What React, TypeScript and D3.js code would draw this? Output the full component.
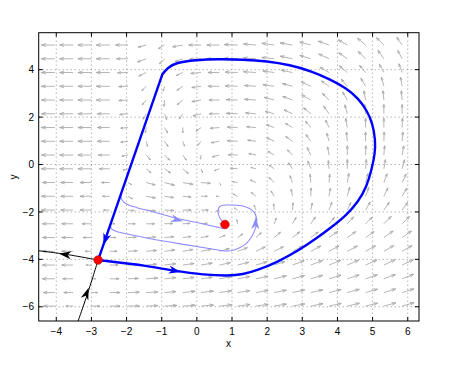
import React from "react"
import * as d3 from "d3"

const W = 461
const H = 370

const xTicks = [-4, -3, -2, -1, 0, 1, 2, 3, 4, 5, 6]
const yTicks = [-6, -4, -2, 0, 2, 4]

// quiver grid (data coords)
const fieldX = [-4.04, -3.52, -3.0, -2.48, -1.96, -1.44, -0.92, -0.4, 0.12, 0.64, 1.16, 1.68, 2.2, 2.72, 3.24, 3.76, 4.28, 4.8, 5.32, 5.84]
const fieldY = [5.04, 4.46, 3.88, 3.3, 2.72, 2.14, 1.56, 0.98, 0.4, -0.18, -0.76, -1.34, -1.92, -2.5, -3.08, -3.66, -4.24, -4.82, -5.4, -5.97]

// arrow direction in degrees (0 = right, 90 = up), one row per fieldY value
const fieldAngle = [
    [180, 180, 180, 180, 180, 195, 210, 190, 180, 180, 178, 175, 172, 170, 165, 160, 150, 140, 135, 125],
    [180, 180, 180, 180, 180, 200, 225, 200, 182, 180, 178, 176, 174, 168, 163, 155, 145, 135, 125, 118],
    [180, 180, 180, 180, 181, 205, 240, 205, 185, 180, 178, 176, 172, 168, 160, 150, 140, 130, 118, 110],
    [180, 180, 180, 180, 182, 225, 255, 215, 188, 180, 178, 176, 172, 165, 155, 145, 130, 120, 105, 100],
    [180, 180, 180, 180, 183, 230, 265, 220, 190, 180, 178, 176, 165, 160, 150, 135, 120, 100, 95, 95],
    [180, 180, 180, 180, 185, 240, 290, 235, 195, 180, 178, 175, 165, 155, 140, 125, 105, 95, 90, 90],
    [180, 180, 180, 180, 185, 260, 300, 270, 215, 185, 178, 175, 160, 150, 130, 115, 100, 90, 90, 88],
    [180, 180, 180, 180, 187, 285, 305, 290, 230, 190, 177, 172, 155, 145, 125, 105, 95, 90, 88, 85],
    [180, 180, 180, 180, 190, 310, 315, 305, 260, 195, 178, 168, 150, 135, 115, 100, 90, 88, 85, 80],
    [180, 180, 180, 180, 195, 320, 325, 320, 290, 200, 175, 165, 145, 125, 110, 95, 90, 85, 80, 75],
    [180, 180, 180, 180, 330, 345, 345, 350, 355, 300, 170, 155, 135, 110, 95, 85, 80, 75, 70, 65],
    [180, 180, 180, 180, 330, 350, 352, 355, 0, 180, 155, 140, 120, 100, 88, 80, 75, 70, 65, 60],
    [180, 180, 180, 180, 355, 355, 357, 0, 0, 200, 150, 110, 95, 85, 78, 70, 65, 60, 55, 55],
    [180, 180, 180, 0, 0, 0, 2, 3, 5, 10, 100, 80, 70, 60, 55, 50, 48, 45, 45, 45],
    [180, 180, 180, 0, 2, 3, 5, 7, 10, 20, 35, 42, 40, 38, 36, 35, 35, 35, 35, 35],
    [180, 180, 180, 0, 3, 5, 8, 10, 12, 15, 20, 25, 26, 27, 28, 28, 28, 29, 30, 30],
    [180, 180, 180, 0, 2, 5, 7, 8, 10, 12, 14, 16, 18, 20, 21, 22, 23, 24, 25, 25],
    [180, 180, 0, 0, 2, 4, 6, 7, 8, 10, 11, 12, 14, 15, 16, 17, 18, 19, 20, 21],
    [180, 180, 0, 0, 2, 3, 5, 6, 7, 8, 9, 10, 11, 12, 13, 14, 15, 16, 17, 17],
    [180, 180, 0, 0, 1, 2, 3, 4, 5, 6, 7, 8, 9, 10, 11, 12, 13, 14, 15, 16],
]

// arrow magnitude (scaled quiver length)
const fieldSpeed = [
    [13, 13, 13, 13, 12, 8, 7, 10, 12, 12, 13, 12, 12, 12, 11, 11, 10, 10, 10, 9],
    [13, 13, 13, 13, 11, 9, 7, 8, 11, 12, 13, 12, 12, 12, 11, 11, 10, 10, 10, 9],
    [13, 13, 13, 13, 10, 8, 6, 7, 10, 11, 12, 12, 11, 11, 10, 10, 10, 9, 9, 9],
    [13, 13, 13, 13, 9, 6, 5, 7, 9, 11, 12, 11, 11, 10, 10, 9, 9, 9, 9, 9],
    [13, 13, 13, 13, 9, 6, 6, 7, 9, 10, 11, 11, 10, 10, 10, 9, 9, 9, 9, 9],
    [13, 13, 13, 12, 8, 6, 6, 6, 8, 10, 11, 10, 9, 9, 9, 9, 9, 9, 9, 9],
    [13, 13, 13, 12, 7, 5, 6, 5, 6, 9, 10, 9, 8, 8, 8, 8, 9, 9, 9, 9],
    [13, 13, 13, 12, 7, 5, 6, 5, 5, 8, 10, 8, 8, 8, 8, 8, 9, 9, 9, 9],
    [13, 13, 13, 11, 6, 6, 7, 6, 4, 7, 9, 7, 7, 7, 8, 8, 9, 9, 9, 9],
    [13, 13, 13, 10, 5, 6, 7, 7, 4, 5, 7, 5, 6, 7, 8, 8, 9, 9, 9, 9],
    [12, 12, 11, 8, 4, 9, 10, 10, 9, 3, 5, 6, 7, 7, 8, 8, 9, 9, 9, 9],
    [13, 12, 11, 7, 5, 9, 9, 8, 6, 3, 5, 6, 6, 7, 8, 8, 9, 9, 9, 9],
    [13, 12, 11, 6, 6, 9, 9, 8, 7, 3, 4, 5, 6, 7, 7, 8, 8, 9, 9, 9],
    [12, 11, 9, 5, 7, 8, 8, 7, 6, 3, 4, 5, 6, 7, 8, 8, 9, 9, 10, 10],
    [12, 11, 8, 6, 8, 9, 9, 8, 7, 6, 6, 7, 8, 9, 9, 10, 10, 10, 11, 11],
    [12, 11, 6, 7, 9, 10, 10, 10, 10, 10, 10, 10, 10, 11, 11, 11, 11, 11, 11, 11],
    [12, 11, 5, 8, 10, 10, 11, 11, 11, 11, 11, 11, 11, 12, 12, 12, 12, 12, 12, 12],
    [12, 10, 4, 9, 10, 11, 11, 11, 11, 12, 12, 12, 12, 12, 12, 12, 12, 12, 12, 12],
    [11, 9, 6, 10, 11, 11, 11, 12, 12, 12, 12, 12, 12, 12, 12, 12, 12, 12, 12, 12],
    [11, 7, 8, 10, 11, 11, 12, 12, 12, 12, 12, 12, 12, 12, 12, 12, 12, 12, 12, 12],
]

// homoclinic orbit: curved part from the saddle round to the corner, then straight back down
const homoclinicArc: [number, number][] = [
    [-2.81, -4.03], [-1.34, -4.28], [-0.6, -4.5], [0.2, -4.65], [0.9, -4.7], [1.3, -4.64],
    [1.74, -4.45], [2.31, -4.1], [2.88, -3.64], [3.4, -3.12], [3.79, -2.69], [4.26, -2.13],
    [4.59, -1.57], [4.83, -0.94], [4.97, -0.23], [5.07, 0.47], [5.08, 1.03], [5.0, 1.74],
    [4.83, 2.3], [4.59, 2.79], [4.26, 3.21], [3.79, 3.59], [3.22, 3.96], [2.65, 4.2],
    [2.0, 4.36], [1.3, 4.43], [0.6, 4.45], [-0.03, 4.41], [-0.6, 4.3], [-0.83, 4.08],
    [-0.98, 3.81],
]
const homoclinicLine: [number, number][] = [[-0.98, 3.81], [-2.81, -4.03]]
const stableBelow: [number, number][] = [[-3.45, -6.9], [-3.1, -5.4], [-2.81, -4.03]]
const unstableLeft: [number, number][] = [[-2.81, -4.03], [-3.76, -3.78], [-4.6, -3.62]]

const orbitA: [number, number][] = [
    [-2.16, -1.3], [-2.15, -1.44], [-2.08, -1.59], [-1.94, -1.71], [-1.7, -1.82], [-1.23, -2.0],
    [-0.56, -2.28], [0.1, -2.48], [0.58, -2.64], [0.79, -2.68], [0.8, -2.56],
]
const orbitB: [number, number][] = [
    [-2.46, -2.59], [-2.43, -2.71], [-2.32, -2.8], [-2.08, -2.9], [-1.32, -3.13], [-0.37, -3.37],
    [0.39, -3.55], [0.86, -3.65], [1.1, -3.58], [1.43, -3.29], [1.64, -2.8], [1.7, -2.38],
    [1.64, -2.03], [1.38, -1.78], [1.01, -1.71], [0.67, -1.75], [0.6, -1.96], [0.65, -2.24],
    [0.75, -2.45], [0.8, -2.53],
]

const equilibria: [number, number][] = [[-2.81, -4.03], [0.8, -2.53]]

// direction markers: tip position and a point behind it along the curve
const markers = [
    {tip: [-2.66, -3.4], from: [-2.5, -2.7], color: "#0000ff"},
    {tip: [-0.46, -4.53], from: [-1.2, -4.3], color: "#0000ff"},
    {tip: [-3.92, -3.76], from: [-3.3, -3.88], color: "#000000"},
    {tip: [-3.08, -5.2], from: [-3.25, -5.9], color: "#000000"},
    {tip: [-0.4, -2.39], from: [-1.0, -2.15], color: "#8c8cff"},
    {tip: [1.68, -2.22], from: [1.66, -2.75], color: "#8c8cff"},
]

const App = () => {
    const xScale = d3.scaleLinear().domain([-4.5, 6.32]).range([38.7, 419])
    const yScale = d3.scaleLinear().domain([-6.6, 5.56]).range([321, 32.7])
    const lengthScale = d3.scaleLinear().domain([0, 13]).range([0, 13.5])

    const [x0, x1] = xScale.range()
    const [y0, y1] = yScale.range()

    const line = d3.line<[number, number]>()
        .x(d => xScale(d[0]))
        .y(d => yScale(d[1]))
        .curve(d3.curveCatmullRom.alpha(0.5))
    const smooth = d3.line<[number, number]>()
        .x(d => xScale(d[0]))
        .y(d => yScale(d[1]))
        .curve(d3.curveBasis)
    const straight = d3.line<[number, number]>()
        .x(d => xScale(d[0]))
        .y(d => yScale(d[1]))

    // quiver arrows
    const quiver: string[] = []
    fieldY.forEach((fy, j) => {
        fieldX.forEach((fx, i) => {
            const a = fieldAngle[j][i] * Math.PI / 180
            const L = lengthScale(fieldSpeed[j][i])
            const tx = xScale(fx), ty = yScale(fy)
            const dx = L * Math.cos(a), dy = -L * Math.sin(a)
            const hx = tx + dx, hy = ty + dy
            const bx = tx + 0.67 * dx, by = ty + 0.67 * dy
            const px = -dy * 0.11, py = dx * 0.11
            quiver.push(`M${tx},${ty}L${hx},${hy}M${bx + px},${by + py}L${hx},${hy}L${bx - px},${by - py}`)
        })
    })

    return (
        <svg width={W} height={H} style={{position: "absolute", left: 0, top: 0, background: "#fff"}}
             fontFamily="'Liberation Sans', Arial, Helvetica, sans-serif">
            <defs>
                <clipPath id="plotArea">
                    <rect x={x0} y={y1} width={x1 - x0} height={y0 - y1}/>
                </clipPath>
            </defs>
            <rect x={0} y={0} width={W} height={H} fill="#fff"/>

            {/* grid */}
            <g stroke="#777" strokeWidth={0.8} strokeDasharray="1,3">
                {xTicks.map(t => <line key={"gx" + t} x1={xScale(t)} x2={xScale(t)} y1={y1} y2={y0}/>)}
                {yTicks.map(t => <line key={"gy" + t} x1={x0} x2={x1} y1={yScale(t)} y2={yScale(t)}/>)}
            </g>

            <g clipPath="url(#plotArea)">
                <path d={quiver.join("")} stroke="#a8a8a8" strokeWidth={0.85} fill="none"/>

                <path d={line(orbitA) || ""} stroke="#8c8cff" strokeWidth={1.1} fill="none"/>
                <path d={line(orbitB) || ""} stroke="#8c8cff" strokeWidth={1.1} fill="none"/>
                <path d={line(stableBelow) || ""} stroke="#000" strokeWidth={1} fill="none"/>
                <path d={line(unstableLeft) || ""} stroke="#000" strokeWidth={1} fill="none"/>
                <path d={(smooth(homoclinicArc) || "") + (straight(homoclinicLine) || "")}
                      stroke="#0000ff" strokeWidth={2.4} fill="none" strokeLinejoin="round"/>

                {markers.map((m, k) => {
                    const tx = xScale(m.tip[0]), ty = yScale(m.tip[1])
                    const fx = xScale(m.from[0]), fy = yScale(m.from[1])
                    const ang = Math.atan2(ty - fy, tx - fx) * 180 / Math.PI
                    return <path key={"m" + k} d="M0,0L-12,-4L-8.5,0L-12,4Z" fill={m.color}
                                 transform={`translate(${tx},${ty}) rotate(${ang})`}/>
                })}

                {equilibria.map((e, k) => (
                    <circle key={"e" + k} cx={xScale(e[0])} cy={yScale(e[1])} r={4.3}
                            fill="#ff0000" stroke="#b00000" strokeWidth={0.6}/>
                ))}
            </g>

            {/* axes box with inward ticks */}
            <g stroke="#000" strokeWidth={1}>
                <rect x={x0} y={y1} width={x1 - x0} height={y0 - y1} fill="none"/>
                {xTicks.map(t => (
                    <g key={"tx" + t}>
                        <line x1={xScale(t)} x2={xScale(t)} y1={y0} y2={y0 - 4}/>
                        <line x1={xScale(t)} x2={xScale(t)} y1={y1} y2={y1 + 4}/>
                    </g>
                ))}
                {yTicks.map(t => (
                    <g key={"ty" + t}>
                        <line x1={x0} x2={x0 + 4} y1={yScale(t)} y2={yScale(t)}/>
                        <line x1={x1} x2={x1 - 4} y1={yScale(t)} y2={yScale(t)}/>
                    </g>
                ))}
            </g>

            <g fontSize={10} fill="#000">
                {xTicks.map(t => (
                    <text key={"lx" + t} x={xScale(t)} y={334.5} textAnchor="middle">
                        {t < 0 ? "\u2212" + Math.abs(t) : t}
                    </text>
                ))}
                {yTicks.map(t => (
                    <text key={"ly" + t} x={34} y={yScale(t) + 3.6} textAnchor="end">
                        {t < 0 ? "\u2212" + Math.abs(t) : t}
                    </text>
                ))}
                <text x={228.5} y={346.5} textAnchor="middle">x</text>
                <text transform="translate(17,177) rotate(-90)" textAnchor="middle">y</text>
            </g>
        </svg>
    )
}

export default App
